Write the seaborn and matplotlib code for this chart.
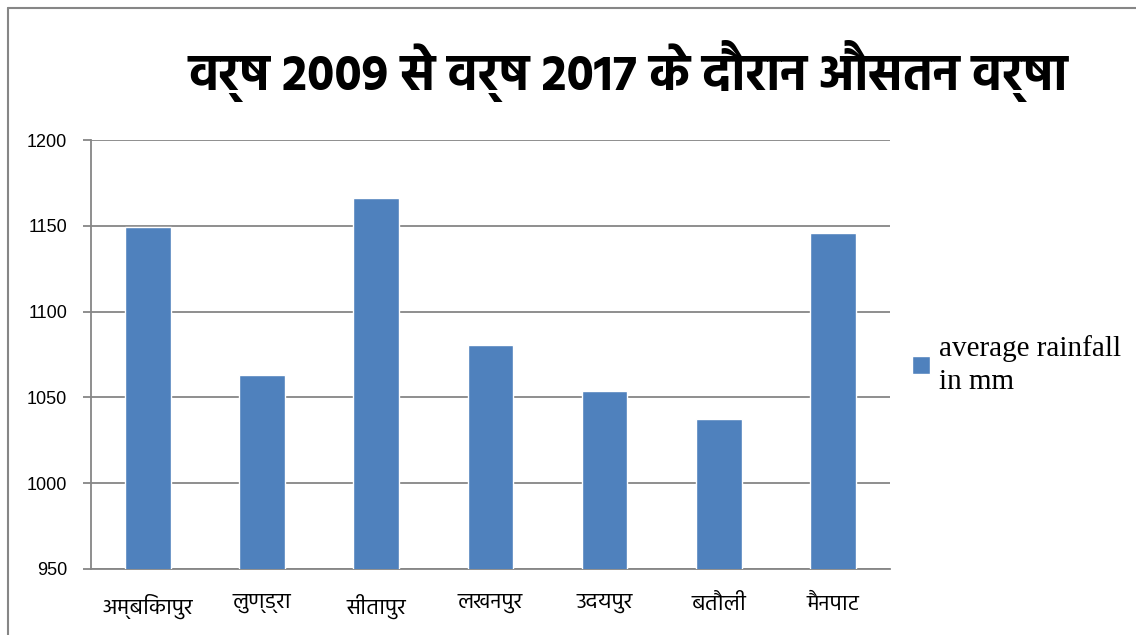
import pandas as pd
import matplotlib
matplotlib.use("Agg")
from matplotlib import pyplot as plt
from matplotlib import font_manager
import seaborn as sns

places = ["अम्बिकापुर", "लुण्ड्रा", "सीतापुर", "लखनपुर", "उदयपुर", "बतौली", "मैनपाट"]
rainfall = [1149.5, 1063, 1166, 1080.5, 1054, 1037.5, 1146]
series_name = "average rainfall\nin mm"
title = "वर्ष 2009 से वर्ष 2017 के दौरान औसतन वर्षा"
yticks = [950, 1000, 1050, 1100, 1150, 1200]

# pick a Devanagari font that is installed (with a real bold file for the title)
names = {}
for f in font_manager.fontManager.ttflist:
    names.setdefault(f.name, set()).add(f.weight)
prefs = ["Hind", "Mukta", "Noto Sans Devanagari", "Poppins", "Arya", "FreeSans"]
label_font = next((n for n in prefs if n in names), "FreeSans")
title_font = next((n for n in prefs if n in names and 700 in names[n]), label_font)

sns.set_style("white")
plt.rcParams["font.family"] = [label_font, "DejaVu Sans"]
plt.rcParams["text.color"] = "black"
plt.rcParams["xtick.color"] = "black"
plt.rcParams["ytick.color"] = "black"

df = pd.DataFrame({"place": places, "rain": rainfall})

fig = plt.figure(figsize=(11.36, 6.35), dpi=100)
ax = fig.add_axes([0.080, 0.104, 0.7035, 0.6755])
sns.barplot(data=df, x="place", y="rain", color="#4F81BD", width=0.40,
            saturation=1, ax=ax, label=series_name, zorder=3)

ax.set_ylim(950, 1200)
ax.set_yticks(yticks)
ax.set_yticklabels([str(v) for v in yticks], family=["Liberation Sans"], fontsize=13)
ax.set_xlim(-0.5, len(places) - 0.5)
ax.grid(axis="y", color="#868686", linewidth=1.3, zorder=0)
ax.set_xlabel("")
ax.set_ylabel("")
for s in ["top", "right"]:
    ax.spines[s].set_visible(False)
for s in ["left", "bottom"]:
    ax.spines[s].set_color("#868686")
    ax.spines[s].set_linewidth(1.3)
ax.tick_params(axis="x", which="major", length=0, labelsize=16, pad=18)
ax.set_xticks([i - 0.5 for i in range(len(places) + 1)], minor=True)
ax.tick_params(axis="x", which="minor", length=7, color="#868686", width=1.3)
ax.tick_params(axis="y", length=6, color="#868686", width=1.3, left=True, pad=11)

leg = ax.legend(loc="center left", bbox_to_anchor=(0.995, 0.475), frameon=False,
                prop={"family": "Liberation Serif", "size": 21},
                handlelength=0.6, handleheight=0.6, handletextpad=0.3)
for t in leg.get_texts():
    t.set_linespacing(1.35)

fig.text(0.553, 0.888, title, ha="center", va="center", fontsize=36,
         fontweight="bold", color="black", family=[title_font, "DejaVu Sans"])

# outer chart border
fig.add_artist(plt.Line2D([0.007, 0.007], [0, 0.988], color="#868686", lw=1.5))
fig.add_artist(plt.Line2D([0.007, 1.0], [0.988, 0.988], color="#868686", lw=1.5))

fig.savefig("out.png", dpi=100)
